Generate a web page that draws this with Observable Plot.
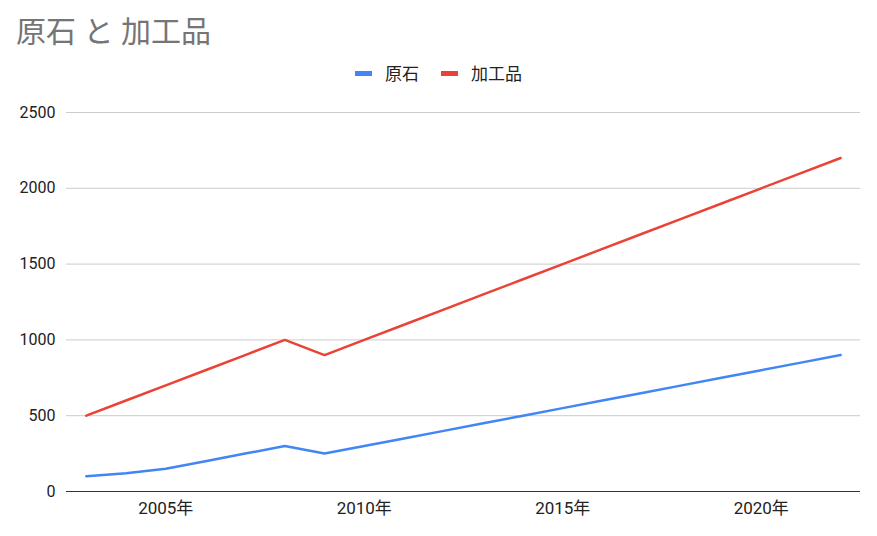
<!DOCTYPE html>
<html><head><meta charset="utf-8">
<script src="https://cdn.jsdelivr.net/npm/d3@7"></script>
<script src="https://cdn.jsdelivr.net/npm/@observablehq/plot@0.6"></script>
<style>
body{margin:0;background:#fff;font-family:Roboto,"Noto Sans CJK JP",sans-serif;}
#wrap{position:relative;width:877px;height:536px;overflow:hidden;}
#title{position:absolute;left:16px;top:14px;font-size:30px;line-height:36px;color:#757575;}
#legend{position:absolute;left:0;width:877px;top:63px;text-align:center;font-size:17px;line-height:22px;color:#222;}
.li{display:inline-block;margin:0 11px;}
.sw{display:inline-block;width:17px;height:5px;vertical-align:middle;margin-right:13px;position:relative;top:-2px;}
#chart{position:absolute;left:0;top:86px;}
</style></head><body>
<div id="wrap">
<div id="title">原石 と 加工品</div>
<div id="legend"></div>
<div id="chart"></div>
</div>
<script>
const years = [2003,2004,2005,2006,2007,2008,2009,2010,2011,2012,2013,2014,2015,2016,2017,2018,2019,2020,2021,2022];
const rough = [100,120,150,200,250,300,250,300,350,400,450,500,550,600,650,700,750,800,850,900];
const processed = [500,600,700,800,900,1000,900,1000,1100,1200,1300,1400,1500,1600,1700,1800,1900,2000,2100,2200];
const seriesNames = ["原石","加工品"];
const seriesColors = ["#4285F4","#EA4335"];
const yTicks = [0,500,1000,1500,2000,2500];
const xTicks = [2005,2010,2015,2020];

const data = [];
years.forEach((y,i)=>{
  data.push({year:y, value:rough[i], series:seriesNames[0]});
  data.push({year:y, value:processed[i], series:seriesNames[1]});
});

const leg = document.getElementById("legend");
seriesNames.forEach((n,i)=>{
  const s=document.createElement("span");s.className="li";
  s.innerHTML=`<span class="sw" style="background:${seriesColors[i]}"></span>${n}`;
  leg.appendChild(s);
});

const chart = Plot.plot({
  width: 877, height: 450,
  marginLeft: 66, marginRight: 17, marginTop: 26, marginBottom: 45,
  style:{fontFamily:'Roboto,"Noto Sans CJK JP",sans-serif', fontSize:"16px", color:"#222"},
  x:{domain:[2002.5,2022.5], label:null},
  y:{domain:[0,2500], label:null},
  color:{domain:seriesNames, range:seriesColors},
  marks:[
    Plot.gridY(yTicks.filter(d=>d>0), {stroke:"#ccc", strokeOpacity:1, strokeWidth:1}),
    Plot.axisY({ticks:yTicks, tickFormat:d=>String(d), tickSize:0, tickPadding:11, label:null, fill:"#222", fontSize:16}),
    Plot.axisX({ticks:xTicks, tickFormat:d=>d+"年", tickSize:0, tickPadding:10, label:null, fill:"#222", fontSize:17}),
    Plot.ruleY([0], {stroke:"#333", strokeWidth:1}),
    Plot.line(data, {x:"year", y:"value", z:"series", stroke:"series", strokeWidth:2.5})
  ]
});
document.getElementById("chart").appendChild(chart);
</script>
</body></html>
